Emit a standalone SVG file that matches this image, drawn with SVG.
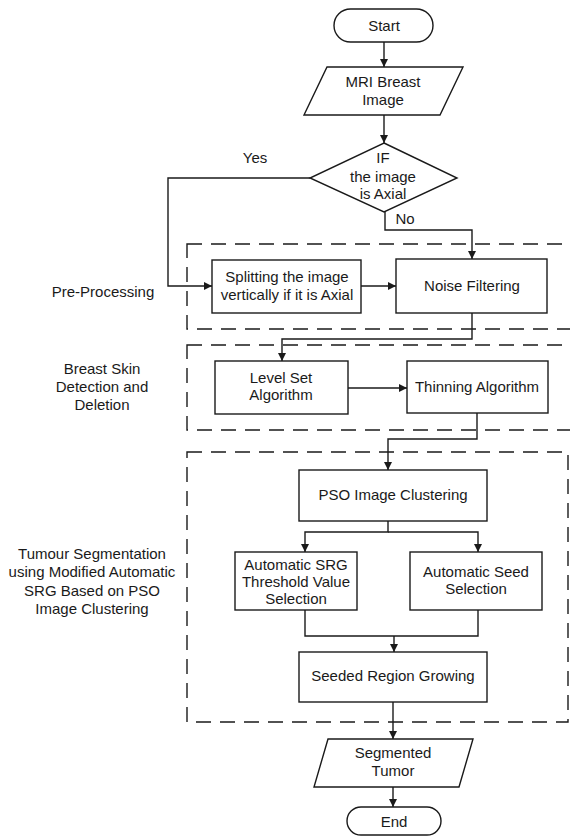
<svg xmlns="http://www.w3.org/2000/svg" width="570" height="836" viewBox="0 0 570 836">
<style>
.n{fill:#fff;stroke:#1a1a1a;stroke-width:1.4}
.c{fill:none;stroke:#1a1a1a;stroke-width:1.4}
.d{fill:none;stroke:#1a1a1a;stroke-width:1.4;stroke-dasharray:15 9}
text{font-family:"Liberation Sans",Arial,sans-serif;font-size:15px;fill:#1a1a1a;text-anchor:middle}
</style>
<defs>
<marker id="ah" viewBox="0 0 10 10" refX="10" refY="5" markerWidth="8" markerHeight="8" markerUnits="userSpaceOnUse" orient="auto">
<path d="M0,0 L10,5 L0,10 z" fill="#1a1a1a"/>
</marker>
</defs>

<g id="groups">
<rect class="d" x="187" y="244" width="390" height="85"/>
<rect class="d" x="187" y="345" width="390" height="85"/>
<rect class="d" x="187" y="452" width="381" height="270"/>
<text x="103" y="297">Pre-Processing</text>
<text x="102" y="374">Breast Skin</text>
<text x="102" y="392">Detection and</text>
<text x="102" y="410">Deletion</text>
<text x="92" y="559">Tumour Segmentation</text>
<text x="92" y="577">using Modified Automatic</text>
<text x="92" y="596">SRG Based on PSO</text>
<text x="92" y="614">Image Clustering</text>
</g>

<g id="connectors">
<path class="c" d="M384,42 V67" marker-end="url(#ah)"/>
<path class="c" d="M384,115 V143" marker-end="url(#ah)"/>
<path class="c" d="M310,178 H168 V286 H212" marker-end="url(#ah)"/>
<path class="c" d="M385,212 V230 H472 V259" marker-end="url(#ah)"/>
<path class="c" d="M361,286 H396" marker-end="url(#ah)"/>
<path class="c" d="M472,313 V339 H282 V361" marker-end="url(#ah)"/>
<path class="c" d="M348,388 H407" marker-end="url(#ah)"/>
<path class="c" d="M477,413 V439 H388 V470" marker-end="url(#ah)"/>
<path class="c" d="M388,521 V532 H305 V552" marker-end="url(#ah)"/>
<path class="c" d="M388,532 H478 V552" marker-end="url(#ah)"/>
<path class="c" d="M305,610 V636 H478 V610"/>
<path class="c" d="M394,636 V652" marker-end="url(#ah)"/>
<path class="c" d="M393,702 V739" marker-end="url(#ah)"/>
<path class="c" d="M393,787 V807" marker-end="url(#ah)"/>
<text x="255" y="163">Yes</text>
<text x="405" y="224">No</text>
</g>

<g id="start">
<rect class="n" x="334" y="9" width="99" height="33" rx="16.5"/>
<text x="384" y="31">Start</text>
</g>
<g id="mri">
<path class="n" d="M327,67 H463 L440,115 H304 Z"/>
<text x="383" y="87">MRI Breast</text>
<text x="383" y="105">Image</text>
</g>
<g id="decision">
<path class="n" d="M384,143 L457,178 L384,212 L310,178 Z"/>
<text x="383" y="163">IF</text>
<text x="383" y="182">the image</text>
<text x="383" y="199">is Axial</text>
</g>
<g id="split">
<rect class="n" x="212" y="260" width="149" height="53"/>
<text x="287" y="282">Splitting the image</text>
<text x="287" y="300">vertically if it is Axial</text>
</g>
<g id="noise">
<rect class="n" x="396" y="259" width="151" height="54"/>
<text x="472" y="291">Noise Filtering</text>
</g>
<g id="levelset">
<rect class="n" x="215" y="361" width="133" height="53"/>
<text x="281" y="383">Level Set</text>
<text x="281" y="400">Algorithm</text>
</g>
<g id="thinning">
<rect class="n" x="407" y="361" width="141" height="52"/>
<text x="477" y="392">Thinning Algorithm</text>
</g>
<g id="pso">
<rect class="n" x="299" y="470" width="188" height="51"/>
<text x="393" y="500">PSO Image Clustering</text>
</g>
<g id="srg">
<rect class="n" x="235" y="552" width="122" height="58"/>
<text x="296" y="570">Automatic SRG</text>
<text x="296" y="587">Threshold Value</text>
<text x="296" y="604">Selection</text>
</g>
<g id="seed">
<rect class="n" x="410" y="552" width="132" height="58"/>
<text x="476" y="577">Automatic Seed</text>
<text x="476" y="594">Selection</text>
</g>
<g id="seeded">
<rect class="n" x="299" y="652" width="188" height="50"/>
<text x="393" y="681">Seeded Region Growing</text>
</g>
<g id="tumor">
<path class="n" d="M328,739 H473 L459,787 H314 Z"/>
<text x="393" y="758">Segmented</text>
<text x="393" y="776">Tumor</text>
</g>
<g id="end">
<rect class="n" x="347" y="807" width="94" height="28" rx="14"/>
<text x="394" y="827">End</text>
</g>
</svg>
